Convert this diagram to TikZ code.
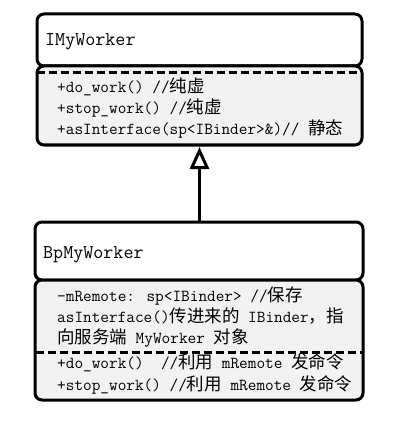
\documentclass[tikz,border=0pt]{standalone}
\usepackage{fontspec}
\newfontfamily\cjkfont{Noto Sans CJK SC}[Scale=1.04]
\newcommand{\zh}[1]{{\cjkfont #1}}
\usetikzlibrary{arrows.meta,calc}
\definecolor{memfill}{HTML}{F2F2F2}
\tikzset{
  titlebox/.style={draw=black, line width=3pt, rounded corners=7pt, fill=white, inner sep=0pt, minimum width=#1},
  membox/.style={draw=black, line width=3pt, rounded corners=7pt, fill=memfill, inner sep=0pt, minimum width=#1},
  sepline/.style={draw=black, line width=3pt, dash pattern=on 8pt off 4pt},
  titletext/.style={anchor=base west, inner sep=0pt, font=\ttfamily\fontsize{19.5}{22}\selectfont},
  memtext/.style={anchor=base west, inner sep=0pt, font=\ttfamily\fontsize{16.8}{21}\selectfont},
  inherit/.style={draw=black, line width=3pt, -{Triangle[open, length=22pt, width=19pt, line width=3pt]}}
}
\begin{document}
\begin{tikzpicture}[x=1pt, y=-1pt]
\useasboundingbox (0,0) rectangle (403,422);
% IMyWorker
\node[titlebox=325pt, minimum height=52pt] (imwt) at (199.5,40) {};
\node[membox=325pt, minimum height=79pt] (imwm) at (199.5,105.5) {};
\draw[sepline] ($(imwm.north west)+(1,8)$) coordinate (s1a) -- ($(imwm.north east)+(-1,8)$) coordinate (s1b);
\node[titletext] (imwname) at (45,46) {IMyWorker};
\node[memtext] (imw1) at (57,93) {+do\_work() //\zh{纯虚}};
\node[memtext] (imw2) at (57,114) {+stop\_work() //\zh{纯虚}};
\node[memtext] (imw3) at (57,135) {+asInterface(sp<IBinder>\&)// \zh{静态}};
% BpMyWorker
\node[titlebox=328pt, minimum height=58pt] (bpt) at (199,251) {};
\node[membox=328pt, minimum height=120pt] (bpm) at (199,340) {};
\draw[sepline] ($(bpm.west)+(2,12)$) coordinate (s2a) -- ($(bpm.east)+(-3,12)$) coordinate (s2b);
\node[titletext] (bpname) at (43,258) {BpMyWorker};
\node[memtext] (bp1) at (57,301) {-mRemote: sp<IBinder> //\zh{保存}};
\node[memtext] (bp2) at (57,322) {asInterface()\zh{传进来的} IBinder\zh{，指}};
\node[memtext] (bp3) at (57,343) {\zh{向服务端} MyWorker \zh{对象}};
\node[memtext] (bp4) at (57,368) {+do\_work()~~//\zh{利用} mRemote \zh{发命令}};
\node[memtext] (bp5) at (57,390) {+stop\_work() //\zh{利用} mRemote \zh{发命令}};
% inheritance
\draw[inherit] (bpt.north -| imwm.south) -- ($(imwm.south)+(0,0.5)$);
\end{tikzpicture}
\end{document}
